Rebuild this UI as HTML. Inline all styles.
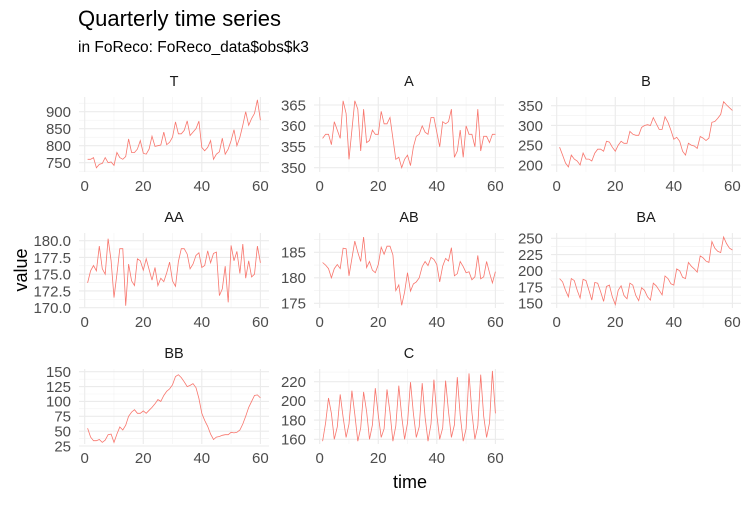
<!DOCTYPE html><html><head><meta charset="utf-8"><style>
body{margin:0;background:#fff}
svg{font-family:"Liberation Sans",sans-serif}
</style></head><body>
<svg id="s" width="750" height="500" xmlns="http://www.w3.org/2000/svg">
<text x="78" y="26" font-size="22" fill="#000">Quarterly time series</text>
<text x="78" y="52" font-size="15.5" fill="#000">in FoReco: FoReco_data$obs$k3</text>
<text x="410" y="488" font-size="18" text-anchor="middle" fill="#000">time</text>
<text transform="translate(27,270) rotate(-90)" font-size="18" text-anchor="middle" fill="#000">value</text>
</svg>
<script>
var C=[];(function(){var p=[160,174,0,186];for(var i=0;i<60;i++){var q=i%4,k=Math.floor(i/4);var v=q==2?203+k*1.8+((k*7)%5):p[q]+((i*13)%7)-3;if(q==0)v=158+((i*11)%6);C.push(v);}})();
var P=[
{n:"T",c:0,r:0,t:[750,800,850,900],a:[900,111.7],b:[750,162.7],d:[760,760,765,735,745,748,765,750,752,742,780,765,760,768,820,780,780,790,815,778,775,790,828,798,800,802,840,803,810,825,870,835,835,845,873,830,840,850,872,795,785,795,815,760,775,782,822,775,790,815,847,800,825,860,900,860,880,895,935,875]},
{n:"A",c:1,r:0,t:[350,355,360,365],a:[365,105],b:[350,167.7],d:[357,358,358,355.5,361,359,357,366,363,352,359,366,364,354,364,356,356.5,359,358,358,363.5,360.5,360.5,362,357,352,352.5,350,352,353,350.5,355,357.5,358,360,358.5,358,362,362,358.5,355,361,360.5,361,364,352.5,354,359,352.5,360,358,358,355,364,354,357.5,357.5,356,358,358]},
{n:"B",c:2,r:0,t:[200,250,300,350],a:[350,105.7],b:[200,165],d:[245,225,205,195,225,215,210,200,230,215,215,210,230,240,240,235,260,258,245,235,250,260,255,255,285,278,275,275,295,300,302,300,320,305,290,290,322,308,288,265,270,260,235,225,255,250,248,242,272,268,262,268,308,310,318,328,360,352,345,338]},
{n:"AA",c:0,r:1,t:[170,172.5,175,177.5,180],f:1,a:[180,240.7],b:[170,307.7],d:[173.7,175.5,176.3,175.5,179.2,175.8,175,180.3,177,171.5,175,178.8,178.8,170.3,176.5,174,173.3,177.3,177,175.6,177.3,175.7,174.1,176,173.3,174.4,173.9,175.2,176.8,174,173.2,176.9,178.8,178.8,178,175.8,176.5,177.8,178.2,176,176.3,178.5,176.7,178.1,178.3,171.8,172.8,176.2,170.8,179.3,177,178.4,175.1,179.5,174.4,177,174.6,175,179.2,176.7]},
{n:"AB",c:1,r:1,t:[175,180,185],a:[185,252.3],b:[175,303.3],d:[183,182.5,181.8,180,181.8,182.6,181.8,185.8,185.7,180.4,183.8,187.2,185,183.2,188,182,183.2,181.5,181,182.6,186,184.6,186.2,186.2,184.5,177.5,178.6,174.6,177.2,181,177.4,178.8,179.2,180,182.2,183.2,182.4,184,183.6,182.6,179.2,182.3,183.8,183.3,185.9,180.4,180.8,183.2,182.2,181,181.2,179.6,180.2,184.4,179.8,180.2,183.2,181,179,181.2]},
{n:"BA",c:2,r:1,t:[150,175,200,225,250],a:[250,238.3],b:[150,303.3],d:[188,183,170,160,188,185,170,158,187,185,170,155,182,181,168,153,176,178,160,148,170,177,162,157,181,178,162,154,174,170,160,155,181,177,170,163,192,188,180,178,203,200,190,188,213,207,203,198,223,220,215,213,245,235,230,228,252,242,235,232]},
{n:"BB",c:0,r:2,t:[25,50,75,100,125,150],a:[150,371.7],b:[25,446],d:[55,40,34,34,36,31,35,44,45,31,45,57,52,60,75,82,86,80,80,84,80,85,90,96,103,100,110,117,121,128,142,145,140,133,125,127,130,123,105,80,68,58,45,36,40,41,43,44,44,48,47,48,52,62,75,90,100,110,111,106]},
{n:"C",c:1,r:2,t:[160,180,200,220],a:[220,381.7],b:[160,439.3],d:C}
];
var L=[79,314,551],W=190,T=[97,233,369],H=75,s="";
P.forEach(function(p){var x0=L[p.c],y0=T[p.r];
 var sx=function(v){return x0+(v+1.95)*W/64.9};
 var sy=function(v){return p.a[1]+(v-p.a[0])*(p.b[1]-p.a[1])/(p.b[0]-p.a[0])};
 [10,30,50].forEach(function(v){s+='<line x1="'+sx(v)+'" x2="'+sx(v)+'" y1="'+y0+'" y2="'+(y0+H)+'" stroke="#f2f2f2" stroke-width="0.6"/>'});
 var st=p.t[1]-p.t[0];
 for(var v=p.t[0]-st/2;v<=p.t[p.t.length-1]+st/2+1e-9;v+=st){var y=sy(v);if(y>=y0&&y<=y0+H)s+='<line x1="'+x0+'" x2="'+(x0+W)+'" y1="'+y+'" y2="'+y+'" stroke="#f2f2f2" stroke-width="0.6"/>'}
 [0,20,40,60].forEach(function(v){s+='<line x1="'+sx(v)+'" x2="'+sx(v)+'" y1="'+y0+'" y2="'+(y0+H)+'" stroke="#ebebeb" stroke-width="1.1"/>';
  s+='<text x="'+sx(v)+'" y="'+(y0+H+19)+'" font-size="15" fill="#4d4d4d" text-anchor="middle">'+v+'</text>'});
 p.t.forEach(function(v){var y=sy(v);s+='<line x1="'+x0+'" x2="'+(x0+W)+'" y1="'+y+'" y2="'+y+'" stroke="#ebebeb" stroke-width="1.1"/>';
  s+='<text x="'+(x0-8)+'" y="'+(y+5.3)+'" font-size="15" fill="#4d4d4d" text-anchor="end">'+(p.f?v.toFixed(1):v)+'</text>'});
 s+='<text x="'+(x0+W/2)+'" y="'+(y0-11)+'" font-size="14.5" fill="#1a1a1a" text-anchor="middle">'+p.n+'</text>';
 var pts=p.d.map(function(v,i){return sx(i+1).toFixed(1)+','+sy(v).toFixed(1)}).join(' ');
 s+='<polyline points="'+pts+'" fill="none" stroke="#F8766D" stroke-width="0.8"/>';
});
document.getElementById("s").insertAdjacentHTML("beforeend",s);
</script>
</body></html>
